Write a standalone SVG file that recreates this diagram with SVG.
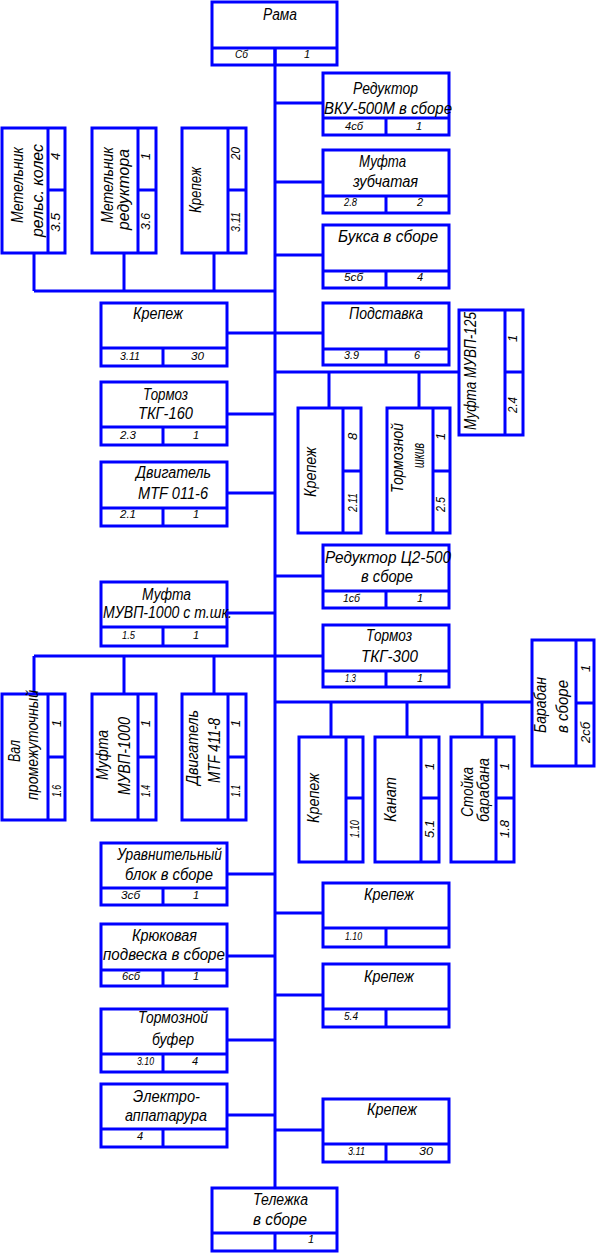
<svg xmlns="http://www.w3.org/2000/svg" width="596" height="1253" viewBox="0 0 596 1253">
<style>
.b{fill:none;stroke:#0000ff;stroke-width:3}
.c{fill:none;stroke:#0000ff;stroke-width:3}
text{font-family:"Liberation Sans",Arial,sans-serif;font-style:italic;fill:#000}
.n{font-size:16px}
.s{font-size:11px}
.r{font-size:13px}
</style>
<rect width="596" height="1253" fill="#fff"/>
<g id="connectors">
<path class="c" d="M275 48V1188"/>
<path class="c" d="M275 103H323M275 182H323M275 255H323M227 333H323M275 576H323M275 913H323M275 995H323M275 1130H323"/>
<path class="c" d="M227 414H275M227 493H275M227 613H275M227 874H275M227 956H275M227 1040H275M227 1115H275"/>
<path class="c" d="M34 291H275M34 253V291M124 253V291M214 253V291"/>
<path class="c" d="M275 372H459M329 372V408M419 372V408"/>
<path class="c" d="M34 656H323M34 656V694M124 656V694M214 656V694"/>
<path class="c" d="M275 702H532M331 702V737M407 702V737M482 702V737"/>
</g>
<g id="rama">
<rect class="b" x="212" y="2" width="125" height="63"/>
<path class="b" d="M212 48H337M275 48V65"/>
<text class="n" x="263" y="20" textLength="34" lengthAdjust="spacingAndGlyphs">Рама</text>
<text class="s" x="235" y="58" textLength="13" lengthAdjust="spacingAndGlyphs">Сб</text>
<text class="s" x="304" y="58">1</text>
</g>
<g id="reduktor-vku">
<rect class="b" x="323" y="73" width="126" height="62"/>
<path class="b" d="M323 118H449M386 118V135"/>
<text class="n" x="353" y="94" textLength="65" lengthAdjust="spacingAndGlyphs">Редуктор</text>
<text class="n" x="324" y="114" textLength="128" lengthAdjust="spacingAndGlyphs">ВКУ-500М в сборе</text>
<text class="s" x="345" y="130" textLength="18" lengthAdjust="spacingAndGlyphs">4сб</text>
<text class="s" x="416" y="130">1</text>
</g>
<g id="mufta-zub">
<rect class="b" x="323" y="150" width="126" height="63"/>
<path class="b" d="M323 196H449M386 196V213"/>
<text class="n" x="359" y="167" textLength="47" lengthAdjust="spacingAndGlyphs">Муфта</text>
<text class="n" x="353" y="187" textLength="65" lengthAdjust="spacingAndGlyphs">зубчатая</text>
<text class="s" x="344" y="206" textLength="13" lengthAdjust="spacingAndGlyphs">2.8</text>
<text class="s" x="417" y="206">2</text>
</g>
<g id="buksa">
<rect class="b" x="323" y="225" width="126" height="63"/>
<path class="b" d="M323 271H449M386 271V288"/>
<text class="n" x="338" y="242" textLength="100" lengthAdjust="spacingAndGlyphs">Букса в сборе</text>
<text class="s" x="344" y="281" textLength="19" lengthAdjust="spacingAndGlyphs">5сб</text>
<text class="s" x="417" y="281">4</text>
</g>
<g id="metelnik-kol">
<rect class="b" x="2" y="128" width="63" height="125"/>
<path class="b" d="M48 128V253M48 190H65"/>
<text class="n" transform="translate(23,223) rotate(-90)" textLength="76" lengthAdjust="spacingAndGlyphs">Метельник</text>
<text class="n" transform="translate(43,237) rotate(-90)" textLength="93" lengthAdjust="spacingAndGlyphs">рельс. колес</text>
<text class="r" transform="translate(60,160) rotate(-90)">4</text>
<text class="r" transform="translate(60,232) rotate(-90)" textLength="19" lengthAdjust="spacingAndGlyphs">3.5</text>
</g>
<g id="metelnik-red">
<rect class="b" x="92" y="128" width="64" height="125"/>
<path class="b" d="M138 128V253M138 190H156"/>
<text class="n" transform="translate(113,223) rotate(-90)" textLength="76" lengthAdjust="spacingAndGlyphs">Метельник</text>
<text class="n" transform="translate(129,230) rotate(-90)" textLength="81" lengthAdjust="spacingAndGlyphs">редуктора</text>
<text class="r" transform="translate(150,160) rotate(-90)">1</text>
<text class="r" transform="translate(150,230) rotate(-90)" textLength="17" lengthAdjust="spacingAndGlyphs">3.6</text>
</g>
<g id="krepezh-20">
<rect class="b" x="182" y="128" width="64" height="125"/>
<path class="b" d="M228 128V253M228 190H246"/>
<text class="n" transform="translate(201,213) rotate(-90)" textLength="46" lengthAdjust="spacingAndGlyphs">Крепеж</text>
<text class="r" transform="translate(240,160) rotate(-90)" textLength="13" lengthAdjust="spacingAndGlyphs">20</text>
<text class="r" transform="translate(240,232) rotate(-90)" textLength="20" lengthAdjust="spacingAndGlyphs">3.11</text>
</g>
<g id="krepezh-311a">
<rect class="b" x="101" y="303" width="126" height="63"/>
<path class="b" d="M101 348H227M163 348V366"/>
<text class="n" x="133" y="319" textLength="50" lengthAdjust="spacingAndGlyphs">Крепеж</text>
<text class="s" x="120" y="360" textLength="20" lengthAdjust="spacingAndGlyphs">3.11</text>
<text class="s" x="191" y="360" textLength="13" lengthAdjust="spacingAndGlyphs">30</text>
</g>
<g id="podstavka">
<rect class="b" x="323" y="303" width="126" height="62"/>
<path class="b" d="M323 349H449M386 349V365"/>
<text class="n" x="349" y="319" textLength="74" lengthAdjust="spacingAndGlyphs">Подставка</text>
<text class="s" x="344" y="359" textLength="15" lengthAdjust="spacingAndGlyphs">3.9</text>
<text class="s" x="414" y="359">6</text>
</g>
<g id="mufta-125">
<rect class="b" x="459" y="310" width="64" height="125"/>
<path class="b" d="M505 310V435M505 372H523"/>
<text class="n" transform="translate(476,430) rotate(-90)" textLength="118" lengthAdjust="spacingAndGlyphs">Муфта МУВП-125</text>
<text class="r" transform="translate(517,342) rotate(-90)">1</text>
<text class="r" transform="translate(517,413) rotate(-90)" textLength="16" lengthAdjust="spacingAndGlyphs">2.4</text>
</g>
<g id="tormoz-160">
<rect class="b" x="101" y="382" width="126" height="63"/>
<path class="b" d="M101 427H227M163 427V445"/>
<text class="n" x="143" y="400" textLength="45" lengthAdjust="spacingAndGlyphs">Тормоз</text>
<text class="n" x="138" y="419" textLength="55" lengthAdjust="spacingAndGlyphs">ТКГ-160</text>
<text class="s" x="120" y="439" textLength="16" lengthAdjust="spacingAndGlyphs">2.3</text>
<text class="s" x="193" y="439">1</text>
</g>
<g id="krepezh-211">
<rect class="b" x="298" y="408" width="63" height="125"/>
<path class="b" d="M343 408V533M343 471H361"/>
<text class="n" transform="translate(316,497) rotate(-90)" textLength="50" lengthAdjust="spacingAndGlyphs">Крепеж</text>
<text class="r" transform="translate(357,440) rotate(-90)">8</text>
<text class="r" transform="translate(357,512) rotate(-90)" textLength="19" lengthAdjust="spacingAndGlyphs">2.11</text>
</g>
<g id="shkiv">
<rect class="b" x="387" y="408" width="63" height="125"/>
<path class="b" d="M433 408V533M433 471H450"/>
<text class="n" transform="translate(403,493) rotate(-90)" textLength="70" lengthAdjust="spacingAndGlyphs">Тормозной</text>
<text class="n" transform="translate(424,468) rotate(-90)" textLength="25" lengthAdjust="spacingAndGlyphs">шкив</text>
<text class="r" transform="translate(445,440) rotate(-90)">1</text>
<text class="r" transform="translate(445,512) rotate(-90)" textLength="15" lengthAdjust="spacingAndGlyphs">2.5</text>
</g>
<g id="dvig-011">
<rect class="b" x="101" y="462" width="126" height="64"/>
<path class="b" d="M101 508H227M163 508V526"/>
<text class="n" x="136" y="478" textLength="75" lengthAdjust="spacingAndGlyphs">Двигатель</text>
<text class="n" x="138" y="499" textLength="70" lengthAdjust="spacingAndGlyphs">MTF 011-6</text>
<text class="s" x="120" y="518" textLength="16" lengthAdjust="spacingAndGlyphs">2.1</text>
<text class="s" x="193" y="518">1</text>
</g>
<g id="reduktor-c2">
<rect class="b" x="323" y="545" width="126" height="63"/>
<path class="b" d="M323 591H449M386 591V608"/>
<text class="n" x="325" y="563" textLength="126" lengthAdjust="spacingAndGlyphs">Редуктор Ц2-500</text>
<text class="n" x="361" y="582" textLength="52" lengthAdjust="spacingAndGlyphs">в сборе</text>
<text class="s" x="343" y="602" textLength="17" lengthAdjust="spacingAndGlyphs">1сб</text>
<text class="s" x="417" y="602">1</text>
</g>
<g id="mufta-1000tsh">
<rect class="b" x="101" y="582" width="126" height="64"/>
<path class="b" d="M101 627H227M163 627V646"/>
<text class="n" x="142" y="600" textLength="49" lengthAdjust="spacingAndGlyphs">Муфта</text>
<text class="n" x="103" y="618" textLength="129" lengthAdjust="spacingAndGlyphs">МУВП-1000 с т.шк.</text>
<text class="s" x="122" y="639" textLength="13" lengthAdjust="spacingAndGlyphs">1.5</text>
<text class="s" x="193" y="639">1</text>
</g>
<g id="tormoz-300">
<rect class="b" x="323" y="625" width="126" height="62"/>
<path class="b" d="M323 671H449M386 671V687"/>
<text class="n" x="366" y="641" textLength="46" lengthAdjust="spacingAndGlyphs">Тормоз</text>
<text class="n" x="361" y="662" textLength="57" lengthAdjust="spacingAndGlyphs">ТКГ-300</text>
<text class="s" x="345" y="682" textLength="11" lengthAdjust="spacingAndGlyphs">1.3</text>
<text class="s" x="417" y="682">1</text>
</g>
<g id="baraban">
<rect class="b" x="532" y="640" width="62" height="126"/>
<path class="b" d="M576 640V766M576 703H594"/>
<text class="n" transform="translate(546,733) rotate(-90)" textLength="56" lengthAdjust="spacingAndGlyphs">Барабан</text>
<text class="n" transform="translate(568,733) rotate(-90)" textLength="53" lengthAdjust="spacingAndGlyphs">в сборе</text>
<text class="r" transform="translate(590,672) rotate(-90)">1</text>
<text class="r" transform="translate(590,743) rotate(-90)" textLength="21" lengthAdjust="spacingAndGlyphs">2сб</text>
</g>
<g id="val">
<rect class="b" x="2" y="694" width="63" height="126"/>
<path class="b" d="M48 694V820M48 757H65"/>
<text class="n" transform="translate(20,762) rotate(-90)" textLength="22" lengthAdjust="spacingAndGlyphs">Вал</text>
<text class="n" transform="translate(38,800) rotate(-90)" textLength="110" lengthAdjust="spacingAndGlyphs">промежуточный</text>
<text class="r" transform="translate(61,727) rotate(-90)">1</text>
<text class="r" transform="translate(61,797) rotate(-90)" textLength="12" lengthAdjust="spacingAndGlyphs">1.6</text>
</g>
<g id="mufta-1000">
<rect class="b" x="92" y="694" width="64" height="126"/>
<path class="b" d="M138 694V820M138 757H156"/>
<text class="n" transform="translate(108,780) rotate(-90)" textLength="50" lengthAdjust="spacingAndGlyphs">Муфта</text>
<text class="n" transform="translate(130,795) rotate(-90)" textLength="78" lengthAdjust="spacingAndGlyphs">МУВП-1000</text>
<text class="r" transform="translate(150,727) rotate(-90)">1</text>
<text class="r" transform="translate(150,797) rotate(-90)" textLength="12" lengthAdjust="spacingAndGlyphs">1.4</text>
</g>
<g id="dvig-411">
<rect class="b" x="182" y="694" width="64" height="126"/>
<path class="b" d="M228 694V820M228 757H246"/>
<text class="n" transform="translate(198,785) rotate(-90)" textLength="75" lengthAdjust="spacingAndGlyphs">Двигатель</text>
<text class="n" transform="translate(220,783) rotate(-90)" textLength="65" lengthAdjust="spacingAndGlyphs">MTF 411-8</text>
<text class="r" transform="translate(240,727) rotate(-90)">1</text>
<text class="r" transform="translate(240,797) rotate(-90)" textLength="12" lengthAdjust="spacingAndGlyphs">1.1</text>
</g>
<g id="krepezh-110v">
<rect class="b" x="299" y="737" width="64" height="125"/>
<path class="b" d="M346 737V862M346 798H363"/>
<text class="n" transform="translate(319,823) rotate(-90)" textLength="50" lengthAdjust="spacingAndGlyphs">Крепеж</text>
<text class="r" transform="translate(359,838) rotate(-90)" textLength="18" lengthAdjust="spacingAndGlyphs">1.10</text>
</g>
<g id="kanat">
<rect class="b" x="375" y="737" width="64" height="125"/>
<path class="b" d="M421 737V862M421 798H439"/>
<text class="n" transform="translate(396,822) rotate(-90)" textLength="45" lengthAdjust="spacingAndGlyphs">Канат</text>
<text class="r" transform="translate(434,770) rotate(-90)">1</text>
<text class="r" transform="translate(434,838) rotate(-90)" textLength="18" lengthAdjust="spacingAndGlyphs">5.1</text>
</g>
<g id="stoika">
<rect class="b" x="451" y="737" width="63" height="125"/>
<path class="b" d="M496 737V862M496 798H514"/>
<text class="n" transform="translate(473,817) rotate(-90)" textLength="50" lengthAdjust="spacingAndGlyphs">Стойка</text>
<text class="n" transform="translate(489,822) rotate(-90)" textLength="64" lengthAdjust="spacingAndGlyphs">барабана</text>
<text class="r" transform="translate(509,770) rotate(-90)">1</text>
<text class="r" transform="translate(509,838) rotate(-90)" textLength="18" lengthAdjust="spacingAndGlyphs">1.8</text>
</g>
<g id="uravn">
<rect class="b" x="101" y="843" width="126" height="62"/>
<path class="b" d="M101 888H227M163 888V905"/>
<text class="n" x="117" y="860" textLength="105" lengthAdjust="spacingAndGlyphs">Уравнительный</text>
<text class="n" x="125" y="880" textLength="88" lengthAdjust="spacingAndGlyphs">блок в сборе</text>
<text class="s" x="121" y="899" textLength="19" lengthAdjust="spacingAndGlyphs">3сб</text>
<text class="s" x="193" y="899">1</text>
</g>
<g id="krepezh-110h">
<rect class="b" x="323" y="883" width="126" height="64"/>
<path class="b" d="M323 928H449M386 928V947"/>
<text class="n" x="364" y="900" textLength="50" lengthAdjust="spacingAndGlyphs">Крепеж</text>
<text class="s" x="345" y="940" textLength="17" lengthAdjust="spacingAndGlyphs">1.10</text>
</g>
<g id="kryuk">
<rect class="b" x="101" y="924" width="126" height="62"/>
<path class="b" d="M101 970H227M163 970V986"/>
<text class="n" x="132" y="941" textLength="65" lengthAdjust="spacingAndGlyphs">Крюковая</text>
<text class="n" x="103" y="960" textLength="122" lengthAdjust="spacingAndGlyphs">подвеска в сборе</text>
<text class="s" x="122" y="980" textLength="18" lengthAdjust="spacingAndGlyphs">6сб</text>
<text class="s" x="193" y="980">1</text>
</g>
<g id="krepezh-54">
<rect class="b" x="323" y="964" width="126" height="63"/>
<path class="b" d="M323 1009H449M386 1009V1027"/>
<text class="n" x="364" y="982" textLength="50" lengthAdjust="spacingAndGlyphs">Крепеж</text>
<text class="s" x="344" y="1020" textLength="14" lengthAdjust="spacingAndGlyphs">5.4</text>
</g>
<g id="bufer">
<rect class="b" x="101" y="1009" width="126" height="63"/>
<path class="b" d="M101 1054H227M163 1054V1072"/>
<text class="n" x="138" y="1023" textLength="70" lengthAdjust="spacingAndGlyphs">Тормозной</text>
<text class="n" x="152" y="1045" textLength="42" lengthAdjust="spacingAndGlyphs">буфер</text>
<text class="s" x="137" y="1065" textLength="17" lengthAdjust="spacingAndGlyphs">3.10</text>
<text class="s" x="192" y="1065">4</text>
</g>
<g id="elektro">
<rect class="b" x="101" y="1084" width="126" height="63"/>
<path class="b" d="M101 1129H227M163 1129V1147"/>
<text class="n" x="133" y="1102" textLength="67" lengthAdjust="spacingAndGlyphs">Электро-</text>
<text class="n" x="125" y="1121" textLength="82" lengthAdjust="spacingAndGlyphs">аппатарура</text>
<text class="s" x="137" y="1140">4</text>
</g>
<g id="krepezh-311b">
<rect class="b" x="323" y="1099" width="126" height="63"/>
<path class="b" d="M323 1144H449M386 1144V1162"/>
<text class="n" x="367" y="1115" textLength="50" lengthAdjust="spacingAndGlyphs">Крепеж</text>
<text class="s" x="348" y="1155" textLength="17" lengthAdjust="spacingAndGlyphs">3.11</text>
<text class="s" x="419" y="1155" textLength="14" lengthAdjust="spacingAndGlyphs">30</text>
</g>
<g id="telezhka">
<rect class="b" x="212" y="1188" width="125" height="63"/>
<path class="b" d="M212 1233H337M275 1233V1251"/>
<text class="n" x="253" y="1205" textLength="55" lengthAdjust="spacingAndGlyphs">Тележка</text>
<text class="n" x="253" y="1225" textLength="54" lengthAdjust="spacingAndGlyphs">в сборе</text>
<text class="s" x="308" y="1243">1</text>
</g>
</svg>
